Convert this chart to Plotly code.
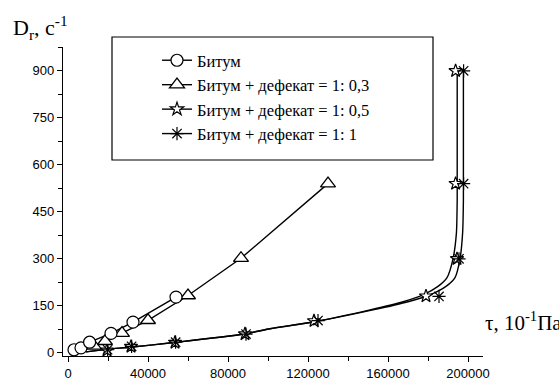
import plotly.graph_objects as go

# ---- data ----
bitum_x = [3000, 6500, 10800, 21500, 32500, 54000]
bitum_y = [10, 16, 34, 62, 98, 178]

d03_x = [13000, 18500, 27000, 40000, 60000, 86500, 130000]
d03_y = [22, 37, 63, 104, 183, 302, 540]

d05_x = [19500, 31500, 53500, 88500, 123000, 179000, 194500, 193800, 193800]
d05_y = [8, 20, 33, 60, 102, 181, 300, 540, 900]

d1_x = [19800, 31800, 53800, 89000, 125000, 185500, 195500, 197800, 197800]
d1_y = [10, 21, 34, 60, 103, 180, 300, 540, 900]

# fitted curves drawn through the 1:0,5 and 1:1 data
fit05_x = [9000, 20000, 31000, 53000, 88000, 101000, 124000, 151000, 168000, 177500, 185000, 189500, 192500, 194200, 194600, 194600]
fit05_y = [3, 12, 18, 33, 60, 77, 100, 137, 164, 185, 212, 240, 300, 382, 488, 900]
fit1_x = [9000, 20000, 31000, 53000, 88000, 101000, 124000, 152500, 170500, 181000, 189000, 193500, 196000, 197300, 197700, 197700]
fit1_y = [3, 12, 18, 33, 60, 77, 100, 137, 164, 185, 212, 240, 300, 382, 488, 900]

names = ["Битум", "Битум + дефекат = 1: 0,3", "Битум + дефекат = 1: 0,5", "Битум + дефекат = 1: 1"]

x_title = "τ, 10<sup>-1</sup>Па"
y_title = "D<sub>r</sub>, c<sup>-1</sup>"

BLK = "black"
LW = 1.4
SERIF = "Liberation Serif"

fig = go.Figure()

# curves
fig.add_trace(go.Scatter(x=fit05_x, y=fit05_y, mode="lines", line=dict(color=BLK, width=LW, shape="spline", smoothing=0.6), showlegend=False, hoverinfo="skip"))
fig.add_trace(go.Scatter(x=fit1_x, y=fit1_y, mode="lines", line=dict(color=BLK, width=LW, shape="spline", smoothing=0.6), showlegend=False, hoverinfo="skip"))
fig.add_trace(go.Scatter(x=bitum_x, y=bitum_y, mode="lines", line=dict(color=BLK, width=LW), showlegend=False))
fig.add_trace(go.Scatter(x=d03_x, y=d03_y, mode="lines", line=dict(color=BLK, width=LW), showlegend=False))

# markers
fig.add_trace(go.Scatter(x=d05_x, y=d05_y, mode="markers", showlegend=False,
                         marker=dict(symbol="star", size=10, color="white", line=dict(color=BLK, width=1.2))))
fig.add_trace(go.Scatter(x=d1_x, y=d1_y, mode="markers", showlegend=False,
                         marker=dict(symbol="asterisk-open", size=11, color=BLK, line=dict(color=BLK, width=1.2))))
fig.add_trace(go.Scatter(x=d03_x, y=d03_y, mode="markers", showlegend=False,
                         marker=dict(symbol="triangle-up", size=13, color="white", line=dict(color=BLK, width=1.3))))
fig.add_trace(go.Scatter(x=bitum_x, y=bitum_y, mode="markers", showlegend=False,
                         marker=dict(symbol="circle", size=12, color="white", line=dict(color=BLK, width=1.2))))

# legend entries
leg_markers = [
    dict(symbol="circle", size=12, color="white", line=dict(color=BLK, width=1.2)),
    dict(symbol="triangle-up", size=13, color="white", line=dict(color=BLK, width=1.3)),
    dict(symbol="star", size=10, color="white", line=dict(color=BLK, width=1.2)),
    dict(symbol="asterisk-open", size=11, color=BLK, line=dict(color=BLK, width=1.2)),
]
for nm, mk in zip(names, leg_markers):
    fig.add_trace(go.Scatter(x=[None], y=[None], mode="lines+markers", name=nm,
                             line=dict(color=BLK, width=LW), marker=mk))

L, T, W, H = 63, 47, 420, 309

def px_x(p):
    return (p - L) / W

def px_y(p):
    return (T + H - p) / H

fig.update_layout(
    width=559, height=382,
    margin=dict(l=L, r=559 - L - W, t=T, b=382 - T - H, autoexpand=False),
    paper_bgcolor="white", plot_bgcolor="white",
    font=dict(family="Liberation Sans", size=13, color=BLK),
    showlegend=True,
    legend=dict(x=px_x(157), y=px_y(43), xanchor="left", yanchor="top",
                bgcolor="rgba(0,0,0,0)", borderwidth=0,
                font=dict(family=SERIF, size=16.5, color=BLK),
                tracegroupgap=0),
    xaxis=dict(range=[-2500, 207500], tickmode="linear", tick0=0, dtick=40000,
               showgrid=False, zeroline=False, showline=True, linecolor=BLK, linewidth=1.2,
               ticks="outside", ticklen=5, tickwidth=1.2, tickcolor=BLK,
               minor=dict(ticks="outside", dtick=20000, tick0=0, ticklen=4, tickwidth=1.2, tickcolor=BLK, showgrid=False),
               tickfont=dict(size=13), tickformat="d"),
    yaxis=dict(range=[-10, 976], tickmode="linear", tick0=0, dtick=150,
               showgrid=False, zeroline=False, showline=True, linecolor=BLK, linewidth=1.2,
               ticks="outside", ticklen=5, tickwidth=1.2, tickcolor=BLK,
               minor=dict(ticks="outside", dtick=75, tick0=0, ticklen=4, tickwidth=1.2, tickcolor=BLK, showgrid=False),
               tickfont=dict(size=13)),
    shapes=[dict(type="rect", xref="paper", yref="paper",
                 x0=px_x(112), x1=px_x(433), y0=px_y(160), y1=px_y(37),
                 line=dict(color=BLK, width=1.2), fillcolor="rgba(0,0,0,0)")],
    annotations=[
        dict(text=y_title, xref="paper", yref="paper", x=px_x(11), y=px_y(28),
             xanchor="left", yanchor="middle", showarrow=False,
             font=dict(family=SERIF, size=22, color=BLK)),
        dict(text=x_title, xref="paper", yref="paper", x=px_x(483), y=px_y(321),
             xanchor="left", yanchor="middle", showarrow=False,
             font=dict(family=SERIF, size=21, color=BLK)),
    ],
)

fig.write_html("out.html", config={"displayModeBar": False},
               post_script="document.body.style.margin='0px';")
